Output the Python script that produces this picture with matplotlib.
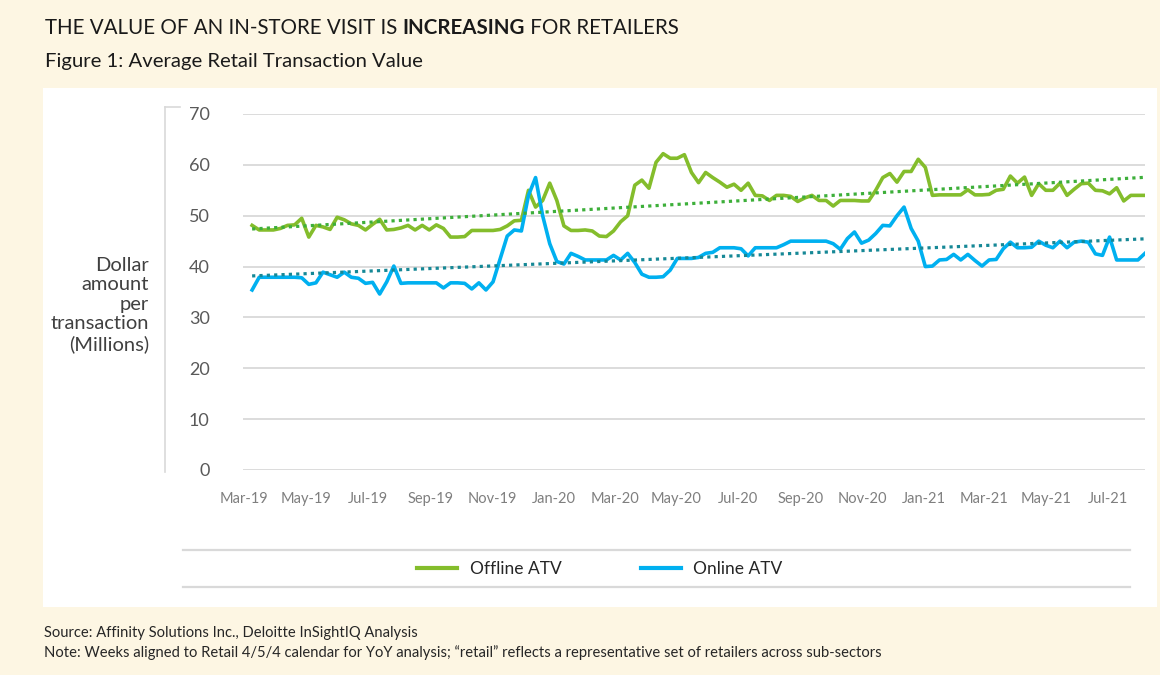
# plot.py
import numpy as np
import pandas as pd
import matplotlib
matplotlib.use("Agg")
import matplotlib.pyplot as plt
import matplotlib.dates as mdates
from matplotlib.lines import Line2D
from matplotlib.patches import Rectangle

plt.rcParams['font.family'] = ['Lato', 'DejaVu Sans']

# Wochenwerte (Retail 4/5/4), erste Woche endet am 09.03.2019
start_datum = '2019-03-09'

offline_atv = [
    48.1, 47.2, 47.2, 47.2, 47.5, 48.1, 48.2, 49.5, 45.8, 48.1,
    47.8, 47.3, 49.7, 49.2, 48.4, 48.1, 47.2, 48.3, 49.3, 47.2,
    47.3, 47.6, 48.1, 47.2, 48.1, 47.2, 48.2, 47.5, 45.8, 45.8,
    45.9, 47.1, 47.1, 47.1, 47.1, 47.3, 48.0, 49.0, 49.1, 55.0,
    51.7, 53.0, 56.4, 53.0, 48.0, 47.1, 47.1, 47.2, 47.0, 46.0,
    45.9, 47.0, 48.8, 50.0, 56.0, 57.0, 55.4, 60.5, 62.2, 61.3,
    61.3, 62.0, 58.5, 56.5, 58.5, 57.5, 56.6, 55.6, 56.2, 55.0,
    56.4, 54.0, 53.9, 53.0, 54.0, 54.0, 53.8, 52.8, 53.5, 54.0,
    53.0, 53.0, 51.9, 53.0, 53.0, 53.0, 52.9, 52.9, 55.0, 57.5,
    58.3, 56.6, 58.7, 58.7, 61.1, 59.5, 54.0, 54.1, 54.1, 54.1,
    54.1, 55.1, 54.1, 54.1, 54.2, 55.0, 55.2, 57.8, 56.4, 57.6,
    54.0, 56.3, 55.0, 55.0, 56.4, 54.0, 55.2, 56.3, 56.4, 55.0,
    54.9, 54.3, 55.5, 52.9, 54.0, 54.0, 54.0,
]

online_atv = [
    35.4, 37.9, 37.9, 37.9, 37.9, 37.9, 37.9, 37.8, 36.5, 36.8,
    38.9, 38.4, 37.9, 38.9, 37.9, 37.7, 36.7, 36.9, 34.6, 37.0,
    40.1, 36.7, 36.8, 36.8, 36.8, 36.8, 36.8, 35.8, 36.8, 36.8,
    36.7, 35.6, 36.8, 35.4, 37.0, 41.5, 46.0, 47.2, 47.0, 54.0,
    57.5, 50.0, 44.5, 41.0, 40.5, 42.6, 42.0, 41.3, 41.3, 41.3,
    41.3, 42.2, 41.3, 42.6, 40.8, 38.5, 37.9, 37.9, 38.0, 39.3,
    41.6, 41.6, 41.6, 41.8, 42.6, 42.8, 43.7, 43.7, 43.7, 43.5,
    42.1, 43.7, 43.7, 43.7, 43.7, 44.3, 45.0, 45.0, 45.0, 45.0,
    45.0, 45.0, 44.5, 43.4, 45.5, 46.8, 44.6, 45.2, 46.5, 48.1,
    48.0, 50.0, 51.7, 47.5, 45.0, 40.0, 40.1, 41.3, 41.4, 42.4,
    41.3, 42.4, 41.2, 40.1, 41.3, 41.4, 43.5, 44.8, 43.7, 43.7,
    43.8, 45.0, 44.2, 43.7, 45.0, 43.7, 44.8, 45.0, 44.8, 42.5,
    42.2, 45.8, 41.3, 41.3, 41.3, 41.3, 42.6,
]

y_ticks = [0, 10, 20, 30, 40, 50, 60, 70]
y_titel = "Dollar\namount\nper\ntransaction\n(Millions)"
serien_namen = ["Offline ATV", "Online ATV"]

GRUEN = '#84BD2C'
BLAU = '#00B0F0'
GRUEN_TREND = '#3DAF3A'
BLAU_TREND = '#168896'
HINTERGRUND = '#FDF6E3'
RASTER = '#D9D9D9'

W, H = 1160, 675


def fx(px):
    return px / W


def fy(py):
    return 1 - py / H


daten = pd.date_range(start_datum, periods=len(offline_atv), freq='7D')

fig = plt.figure(figsize=(W / 100, H / 100), dpi=100)
fig.patch.set_facecolor(HINTERGRUND)

# weisses Feld fuer das Diagramm
fig.add_artist(Rectangle((fx(43), fy(607)), fx(1157) - fx(43), fy(88) - fy(607),
                         transform=fig.transFigure, facecolor='white',
                         edgecolor='none', zorder=0))

ax = fig.add_axes([fx(243), fy(470), fx(1145) - fx(243), fy(114) - fy(470)])
ax.set_facecolor('none')

ax.plot(daten, offline_atv, color=GRUEN, lw=2.6, solid_joinstyle='round', zorder=3)
ax.plot(daten, online_atv, color=BLAU, lw=2.6, solid_joinstyle='round', zorder=3)

# lineare Trendlinien
idx = np.arange(len(daten))
for werte, farbe in [(offline_atv, GRUEN_TREND), (online_atv, BLAU_TREND)]:
    steigung, achse = np.polyfit(idx, werte, 1)
    ax.plot(daten, steigung * idx + achse, color=farbe, lw=2.3,
            linestyle=(0, (1, 1.3)), zorder=4)

ax.set_ylim(0, 70)
ax.set_yticks(y_ticks)
ax.set_xlim(pd.Timestamp('2019-02-28'), daten[-1])
ax.xaxis.set_major_locator(mdates.MonthLocator(bymonth=[1, 3, 5, 7, 9, 11]))
ax.xaxis.set_major_formatter(mdates.DateFormatter('%b-%y'))
ax.tick_params(axis='x', length=0, pad=16, labelsize=10.5, labelcolor='#7F7F7F')
ax.tick_params(axis='y', length=0, pad=24, labelsize=13, labelcolor='#595959')
ax.grid(axis='y', color=RASTER, lw=1.3)
ax.set_axisbelow(True)
for spine in ax.spines.values():
    spine.set_visible(False)

# senkrechte Achsenlinie links
fig.add_artist(Line2D([fx(165), fx(165)], [fy(107), fy(472)], color=RASTER, lw=1.2))
fig.add_artist(Line2D([fx(165), fx(180)], [fy(107), fy(107)], color=RASTER, lw=1.2))

fig.text(fx(149), fy(305), y_titel, ha='right', va='center', fontsize=14.5,
         color='#404040', linespacing=1.18)

# Legende mit Trennlinien
for py in [550, 587]:
    fig.add_artist(Line2D([fx(183), fx(1130)], [fy(py), fy(py)], color=RASTER, lw=1.6))
handles = [Line2D([], [], color=GRUEN, lw=3), Line2D([], [], color=BLAU, lw=3)]
fig.legend(handles, serien_namen, loc='center', bbox_to_anchor=(fx(600), fy(569)),
           ncol=2, frameon=False, fontsize=12.5, handlelength=2.3,
           handletextpad=0.7, columnspacing=4.6, labelcolor='#262626')

# Titel, das Wort INCREASING fett
t1 = fig.text(fx(45), fy(28), "THE VALUE OF AN IN-STORE VISIT IS ", fontsize=14.8,
              va='center', ha='left', color='#1A1A1A')
fig.canvas.draw()
ende = t1.get_window_extent().x1 / W
t2 = fig.text(ende, fy(28), "INCREASING", fontsize=14.8, fontweight='bold',
              va='center', ha='left', color='#1A1A1A')
fig.canvas.draw()
ende = t2.get_window_extent().x1 / W
fig.text(ende, fy(28), " FOR RETAILERS", fontsize=14.8, va='center', ha='left',
         color='#1A1A1A')

fig.text(fx(45), fy(62), "Figure 1: Average Retail Transaction Value", fontsize=14.6,
         va='center', ha='left', color='#1A1A1A')

fig.text(fx(44), fy(633), "Source: Affinity Solutions Inc., Deloitte InSightIQ Analysis",
         fontsize=10.6, va='center', ha='left', color='#262626')
fig.text(fx(44), fy(653),
         "Note: Weeks aligned to Retail 4/5/4 calendar for YoY analysis; "
         "\u201cretail\u201d reflects a representative set of retailers across sub-sectors",
         fontsize=10.65, va='center', ha='left', color='#262626')

fig.savefig('out.png', dpi=100, facecolor=fig.get_facecolor())
